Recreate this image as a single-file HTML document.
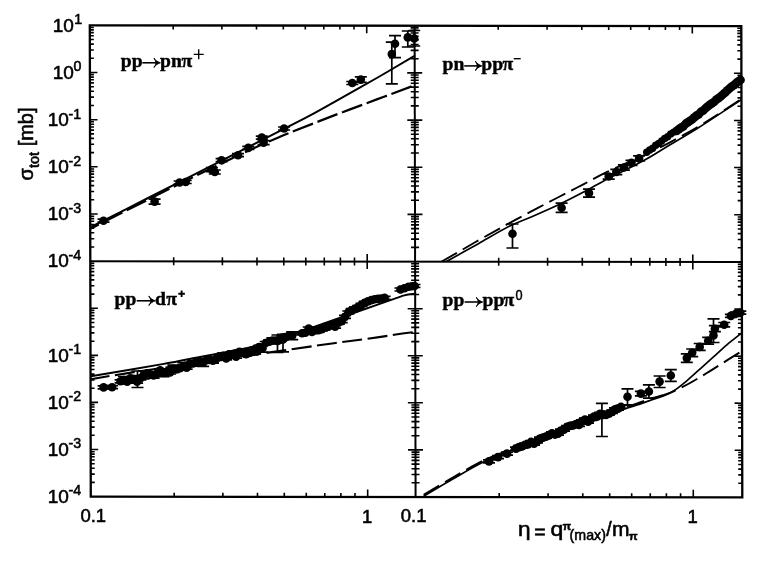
<!DOCTYPE html>
<html><head><meta charset="utf-8"><title>Total cross sections</title>
<style>
html,body{margin:0;padding:0;background:#fff;}
body{width:767px;height:562px;overflow:hidden;font-family:"Liberation Sans",sans-serif;}
svg{display:block;filter:grayscale(1);}
</style></head>
<body>
<svg width="767" height="562" viewBox="0 0 767 562" shape-rendering="geometricPrecision">
<rect width="767" height="562" fill="#fff"/>
<g transform="matrix(1 0.0012 0.0021 1 -0.053 -0.108)">
<g stroke="#000" stroke-width="2.3" fill="none" stroke-linecap="butt">
<rect x="89.8" y="25.3" width="651.5" height="471.3"/>
<line x1="414.6" y1="25.3" x2="414.6" y2="496.6" stroke-width="2"/>
<line x1="89.8" y1="261.2" x2="741.3" y2="261.2" stroke-width="2"/>
</g>
<path d="M173.2 25.3v4.0M173.2 496.6v-4.0M173.2 257.2v8.0M221.9 25.3v4.0M221.9 496.6v-4.0M221.9 257.2v8.0M256.5 25.3v4.0M256.5 496.6v-4.0M256.5 257.2v8.0M283.3 25.3v4.0M283.3 496.6v-4.0M283.3 257.2v8.0M305.3 25.3v4.0M305.3 496.6v-4.0M305.3 257.2v8.0M323.8 25.3v4.0M323.8 496.6v-4.0M323.8 257.2v8.0M339.9 25.3v4.0M339.9 496.6v-4.0M339.9 257.2v8.0M354.0 25.3v4.0M354.0 496.6v-4.0M354.0 257.2v8.0M366.7 25.3v7.5M366.7 496.6v-7.5M366.7 253.7v15.0M498.2 25.3v4.0M498.2 496.6v-4.0M498.2 257.2v8.0M547.1 25.3v4.0M547.1 496.6v-4.0M547.1 257.2v8.0M581.8 25.3v4.0M581.8 496.6v-4.0M581.8 257.2v8.0M608.7 25.3v4.0M608.7 496.6v-4.0M608.7 257.2v8.0M630.7 25.3v4.0M630.7 496.6v-4.0M630.7 257.2v8.0M649.3 25.3v4.0M649.3 496.6v-4.0M649.3 257.2v8.0M665.4 25.3v4.0M665.4 496.6v-4.0M665.4 257.2v8.0M679.6 25.3v4.0M679.6 496.6v-4.0M679.6 257.2v8.0M692.3 25.3v7.5M692.3 496.6v-7.5M692.3 253.7v15.0M89.8 72.5h7.5M741.3 72.5h-7.5M407.1 72.5h15.0M89.8 58.3h4.0M741.3 58.3h-4.0M410.6 58.3h8.0M89.8 50.0h4.0M741.3 50.0h-4.0M410.6 50.0h8.0M89.8 44.1h4.0M741.3 44.1h-4.0M410.6 44.1h8.0M89.8 39.5h4.0M741.3 39.5h-4.0M410.6 39.5h8.0M89.8 35.8h4.0M741.3 35.8h-4.0M410.6 35.8h8.0M89.8 32.6h4.0M741.3 32.6h-4.0M410.6 32.6h8.0M89.8 29.9h4.0M741.3 29.9h-4.0M410.6 29.9h8.0M89.8 27.5h4.0M741.3 27.5h-4.0M410.6 27.5h8.0M89.8 119.7h7.5M741.3 119.7h-7.5M407.1 119.7h15.0M89.8 105.5h4.0M741.3 105.5h-4.0M410.6 105.5h8.0M89.8 97.1h4.0M741.3 97.1h-4.0M410.6 97.1h8.0M89.8 91.3h4.0M741.3 91.3h-4.0M410.6 91.3h8.0M89.8 86.7h4.0M741.3 86.7h-4.0M410.6 86.7h8.0M89.8 82.9h4.0M741.3 82.9h-4.0M410.6 82.9h8.0M89.8 79.8h4.0M741.3 79.8h-4.0M410.6 79.8h8.0M89.8 77.1h4.0M741.3 77.1h-4.0M410.6 77.1h8.0M89.8 74.6h4.0M741.3 74.6h-4.0M410.6 74.6h8.0M89.8 166.8h7.5M741.3 166.8h-7.5M407.1 166.8h15.0M89.8 152.6h4.0M741.3 152.6h-4.0M410.6 152.6h8.0M89.8 144.3h4.0M741.3 144.3h-4.0M410.6 144.3h8.0M89.8 138.4h4.0M741.3 138.4h-4.0M410.6 138.4h8.0M89.8 133.9h4.0M741.3 133.9h-4.0M410.6 133.9h8.0M89.8 130.1h4.0M741.3 130.1h-4.0M410.6 130.1h8.0M89.8 127.0h4.0M741.3 127.0h-4.0M410.6 127.0h8.0M89.8 124.2h4.0M741.3 124.2h-4.0M410.6 124.2h8.0M89.8 121.8h4.0M741.3 121.8h-4.0M410.6 121.8h8.0M89.8 214.0h7.5M741.3 214.0h-7.5M407.1 214.0h15.0M89.8 199.8h4.0M741.3 199.8h-4.0M410.6 199.8h8.0M89.8 191.5h4.0M741.3 191.5h-4.0M410.6 191.5h8.0M89.8 185.6h4.0M741.3 185.6h-4.0M410.6 185.6h8.0M89.8 181.0h4.0M741.3 181.0h-4.0M410.6 181.0h8.0M89.8 177.3h4.0M741.3 177.3h-4.0M410.6 177.3h8.0M89.8 174.1h4.0M741.3 174.1h-4.0M410.6 174.1h8.0M89.8 171.4h4.0M741.3 171.4h-4.0M410.6 171.4h8.0M89.8 169.0h4.0M741.3 169.0h-4.0M410.6 169.0h8.0M89.8 247.0h4.0M741.3 247.0h-4.0M410.6 247.0h8.0M89.8 238.7h4.0M741.3 238.7h-4.0M410.6 238.7h8.0M89.8 232.8h4.0M741.3 232.8h-4.0M410.6 232.8h8.0M89.8 228.2h4.0M741.3 228.2h-4.0M410.6 228.2h8.0M89.8 224.5h4.0M741.3 224.5h-4.0M410.6 224.5h8.0M89.8 221.3h4.0M741.3 221.3h-4.0M410.6 221.3h8.0M89.8 218.6h4.0M741.3 218.6h-4.0M410.6 218.6h8.0M89.8 216.2h4.0M741.3 216.2h-4.0M410.6 216.2h8.0M89.8 308.3h7.5M741.3 308.3h-7.5M407.1 308.3h15.0M89.8 294.1h4.0M741.3 294.1h-4.0M410.6 294.1h8.0M89.8 285.8h4.0M741.3 285.8h-4.0M410.6 285.8h8.0M89.8 279.9h4.0M741.3 279.9h-4.0M410.6 279.9h8.0M89.8 275.4h4.0M741.3 275.4h-4.0M410.6 275.4h8.0M89.8 271.6h4.0M741.3 271.6h-4.0M410.6 271.6h8.0M89.8 268.5h4.0M741.3 268.5h-4.0M410.6 268.5h8.0M89.8 265.8h4.0M741.3 265.8h-4.0M410.6 265.8h8.0M89.8 263.4h4.0M741.3 263.4h-4.0M410.6 263.4h8.0M89.8 355.4h7.5M741.3 355.4h-7.5M407.1 355.4h15.0M89.8 341.2h4.0M741.3 341.2h-4.0M410.6 341.2h8.0M89.8 332.9h4.0M741.3 332.9h-4.0M410.6 332.9h8.0M89.8 327.0h4.0M741.3 327.0h-4.0M410.6 327.0h8.0M89.8 322.5h4.0M741.3 322.5h-4.0M410.6 322.5h8.0M89.8 318.7h4.0M741.3 318.7h-4.0M410.6 318.7h8.0M89.8 315.6h4.0M741.3 315.6h-4.0M410.6 315.6h8.0M89.8 312.8h4.0M741.3 312.8h-4.0M410.6 312.8h8.0M89.8 310.4h4.0M741.3 310.4h-4.0M410.6 310.4h8.0M89.8 402.4h7.5M741.3 402.4h-7.5M407.1 402.4h15.0M89.8 388.3h4.0M741.3 388.3h-4.0M410.6 388.3h8.0M89.8 380.0h4.0M741.3 380.0h-4.0M410.6 380.0h8.0M89.8 374.1h4.0M741.3 374.1h-4.0M410.6 374.1h8.0M89.8 369.5h4.0M741.3 369.5h-4.0M410.6 369.5h8.0M89.8 365.8h4.0M741.3 365.8h-4.0M410.6 365.8h8.0M89.8 362.7h4.0M741.3 362.7h-4.0M410.6 362.7h8.0M89.8 359.9h4.0M741.3 359.9h-4.0M410.6 359.9h8.0M89.8 357.5h4.0M741.3 357.5h-4.0M410.6 357.5h8.0M89.8 449.5h7.5M741.3 449.5h-7.5M407.1 449.5h15.0M89.8 435.3h4.0M741.3 435.3h-4.0M410.6 435.3h8.0M89.8 427.1h4.0M741.3 427.1h-4.0M410.6 427.1h8.0M89.8 421.2h4.0M741.3 421.2h-4.0M410.6 421.2h8.0M89.8 416.6h4.0M741.3 416.6h-4.0M410.6 416.6h8.0M89.8 412.9h4.0M741.3 412.9h-4.0M410.6 412.9h8.0M89.8 409.7h4.0M741.3 409.7h-4.0M410.6 409.7h8.0M89.8 407.0h4.0M741.3 407.0h-4.0M410.6 407.0h8.0M89.8 404.6h4.0M741.3 404.6h-4.0M410.6 404.6h8.0M89.8 482.4h4.0M741.3 482.4h-4.0M410.6 482.4h8.0M89.8 474.1h4.0M741.3 474.1h-4.0M410.6 474.1h8.0M89.8 468.3h4.0M741.3 468.3h-4.0M410.6 468.3h8.0M89.8 463.7h4.0M741.3 463.7h-4.0M410.6 463.7h8.0M89.8 460.0h4.0M741.3 460.0h-4.0M410.6 460.0h8.0M89.8 456.8h4.0M741.3 456.8h-4.0M410.6 456.8h8.0M89.8 454.1h4.0M741.3 454.1h-4.0M410.6 454.1h8.0M89.8 451.7h4.0M741.3 451.7h-4.0M410.6 451.7h8.0" stroke="#000" stroke-width="1.6" fill="none"/>
</g>
<defs>
<clipPath id="c1"><rect x="90.3" y="25.5" width="324.9" height="236.3"/></clipPath>
<clipPath id="c2"><rect x="415.2" y="25.5" width="326.59999999999997" height="236.3"/></clipPath>
<clipPath id="c3"><rect x="90.3" y="261.8" width="324.9" height="235.2"/></clipPath>
<clipPath id="c4"><rect x="415.2" y="261.8" width="326.59999999999997" height="235.2"/></clipPath>
</defs>
<path d="M91.0 227.0C100.8 222.0 131.8 206.2 150.0 197.0C168.2 187.8 183.3 180.1 200.0 171.6C216.7 163.1 232.5 155.1 250.0 146.2C267.5 137.3 291.0 125.5 305.0 118.2C319.0 110.9 322.1 108.9 334.1 102.2C346.1 95.5 363.6 85.6 376.8 78.0C390.0 70.4 406.7 60.5 413.2 56.7C419.7 52.9 415.5 55.3 416.0 55.0" stroke="#000" stroke-width="2.0" fill="none" clip-path="url(#c1)"/>
<path d="M91.0 228.4C100.8 223.4 131.8 207.8 150.0 198.7C168.2 189.6 183.3 181.8 200.0 173.7C216.7 165.6 237.3 155.8 250.0 149.9C262.7 144.1 269.1 141.6 276.0 138.6C282.9 135.6 281.7 136.0 291.4 132.1C301.1 128.2 319.9 120.9 334.1 115.4C348.3 110.0 364.0 104.2 376.8 99.4C389.6 94.6 404.5 89.0 411.0 86.6C417.5 84.2 415.2 85.1 416.0 84.8" stroke="#000" stroke-width="2.2" fill="none" stroke-dasharray="21.5 4.8" stroke-dashoffset="12.6" clip-path="url(#c1)"/>
<g fill="#000">
<circle cx="103.5" cy="220.7" r="4.3"/><path d="M103.5 219.2V222.2M97.5 219.2h12.0M97.5 222.2h12.0" stroke="#000" stroke-width="1.7" fill="none"/>
<circle cx="154.6" cy="201.6" r="4.3"/><path d="M154.6 199.1V204.1M148.6 199.1h12.0M148.6 204.1h12.0" stroke="#000" stroke-width="1.7" fill="none"/>
<circle cx="179.6" cy="182.5" r="4.3"/><path d="M179.6 181.0V184.0M173.6 181.0h12.0M173.6 184.0h12.0" stroke="#000" stroke-width="1.7" fill="none"/>
<circle cx="185.7" cy="182.0" r="4.3"/><path d="M185.7 180.5V183.5M179.7 180.5h12.0M179.7 183.5h12.0" stroke="#000" stroke-width="1.7" fill="none"/>
<circle cx="211.9" cy="169.6" r="4.3"/><path d="M211.9 167.6V171.6M205.9 167.6h12.0M205.9 171.6h12.0" stroke="#000" stroke-width="1.7" fill="none"/>
<circle cx="214.8" cy="172.0" r="4.3"/><path d="M214.8 170.0V174.0M208.8 170.0h12.0M208.8 174.0h12.0" stroke="#000" stroke-width="1.7" fill="none"/>
<circle cx="221.6" cy="160.2" r="4.3"/><path d="M221.6 158.7V161.7M215.6 158.7h12.0M215.6 161.7h12.0" stroke="#000" stroke-width="1.7" fill="none"/>
<circle cx="238.0" cy="155.2" r="4.3"/><path d="M238.0 153.7V156.7M232.0 153.7h12.0M232.0 156.7h12.0" stroke="#000" stroke-width="1.7" fill="none"/>
<circle cx="248.3" cy="147.9" r="4.3"/><path d="M248.3 146.4V149.4M242.3 146.4h12.0M242.3 149.4h12.0" stroke="#000" stroke-width="1.7" fill="none"/>
<circle cx="261.8" cy="137.6" r="4.3"/><path d="M261.8 136.1V139.1M255.8 136.1h12.0M255.8 139.1h12.0" stroke="#000" stroke-width="1.7" fill="none"/>
<circle cx="263.6" cy="142.6" r="4.3"/><path d="M263.6 140.6V144.6M257.6 140.6h12.0M257.6 144.6h12.0" stroke="#000" stroke-width="1.7" fill="none"/>
<circle cx="284.1" cy="128.5" r="4.3"/><path d="M284.1 127.0V130.0M278.1 127.0h12.0M278.1 130.0h12.0" stroke="#000" stroke-width="1.7" fill="none"/>
<circle cx="352.3" cy="83.0" r="4.3"/><path d="M352.3 81.5V84.5M346.3 81.5h12.0M346.3 84.5h12.0" stroke="#000" stroke-width="1.7" fill="none"/>
<circle cx="360.8" cy="79.6" r="4.3"/><path d="M360.8 76.8V82.4M354.8 76.8h12.0M354.8 82.4h12.0" stroke="#000" stroke-width="1.7" fill="none"/>
<circle cx="391.8" cy="54.1" r="4.3"/><path d="M391.8 42.1V83.8M385.8 42.1h12.0M385.8 83.8h12.0" stroke="#000" stroke-width="1.7" fill="none"/>
<circle cx="395.0" cy="43.8" r="4.3"/><path d="M395.0 35.7V57.7M389.0 35.7h12.0M389.0 57.7h12.0" stroke="#000" stroke-width="1.7" fill="none"/>
<circle cx="407.8" cy="37.4" r="4.3"/><path d="M407.8 31.0V47.0M401.8 31.0h12.0M401.8 47.0h12.0" stroke="#000" stroke-width="1.7" fill="none"/>
<circle cx="414.2" cy="38.5" r="4.3"/><path d="M414.2 30.5V46.0M408.2 30.5h12.0M408.2 46.0h12.0" stroke="#000" stroke-width="1.7" fill="none"/>
</g>
<path d="M446.0 261.8C451.3 258.8 467.4 249.9 478.0 243.9C488.6 237.9 500.6 230.6 509.8 226.0C519.0 221.4 525.0 219.7 533.0 216.2C541.0 212.7 549.7 208.9 558.0 205.0C566.3 201.1 574.3 197.0 582.6 192.6C590.9 188.2 597.8 184.0 607.9 178.7C618.0 173.4 633.0 166.5 643.4 160.8C653.8 155.2 661.2 150.1 670.1 144.8C679.0 139.5 687.9 134.4 696.8 128.8C705.7 123.2 716.4 116.1 723.5 111.4C730.6 106.7 736.5 102.8 739.6 100.7C742.7 98.6 741.6 99.3 742.0 99.0" stroke="#000" stroke-width="1.7" fill="none" clip-path="url(#c2)"/>
<path d="M441.3 261.8C447.1 258.5 465.0 248.1 476.0 241.8C487.0 235.5 497.1 229.9 507.5 224.2C517.9 218.5 529.5 212.4 538.4 207.7C547.3 203.0 553.1 199.9 560.7 196.0C568.3 192.1 576.1 188.1 583.8 184.1C591.4 180.1 596.7 176.9 606.6 172.1C616.5 167.3 632.8 160.5 643.4 155.5C654.0 150.5 660.9 147.1 670.0 142.3C679.1 137.5 689.7 131.7 698.0 126.8C706.3 121.9 713.0 117.5 720.0 113.0C727.0 108.5 736.7 102.1 740.0 99.9" stroke="#000" stroke-width="1.9" fill="none" stroke-dasharray="18 6.7" stroke-dashoffset="0" clip-path="url(#c2)"/>
<g fill="#000">
<circle cx="512.5" cy="233.7" r="4.3"/><path d="M512.5 224.0V248.0M506.5 224.0h12.0M506.5 248.0h12.0" stroke="#000" stroke-width="1.7" fill="none"/>
<circle cx="561.6" cy="207.8" r="4.3"/><path d="M561.6 203.2V212.4M555.6 203.2h12.0M555.6 212.4h12.0" stroke="#000" stroke-width="1.7" fill="none"/>
<circle cx="589.0" cy="193.1" r="4.3"/><path d="M589.0 189.1V197.1M583.0 189.1h12.0M583.0 197.1h12.0" stroke="#000" stroke-width="1.7" fill="none"/>
<circle cx="608.7" cy="176.5" r="4.3"/><path d="M608.7 173.9V179.1M602.7 173.9h12.0M602.7 179.1h12.0" stroke="#000" stroke-width="1.7" fill="none"/>
<circle cx="616.3" cy="172.0" r="4.3"/><path d="M616.3 169.4V174.6M610.3 169.4h12.0M610.3 174.6h12.0" stroke="#000" stroke-width="1.7" fill="none"/>
<circle cx="623.9" cy="167.5" r="4.3"/><path d="M623.9 164.9V170.1M617.9 164.9h12.0M617.9 170.1h12.0" stroke="#000" stroke-width="1.7" fill="none"/>
<circle cx="631.5" cy="162.9" r="4.3"/><path d="M631.5 160.3V165.5M625.5 160.3h12.0M625.5 165.5h12.0" stroke="#000" stroke-width="1.7" fill="none"/>
<circle cx="639.1" cy="158.4" r="4.3"/><path d="M639.1 155.8V161.0M633.1 155.8h12.0M633.1 161.0h12.0" stroke="#000" stroke-width="1.7" fill="none"/>
<circle cx="646.7" cy="152.3" r="3.7"/>
<circle cx="649.7" cy="149.9" r="3.7"/>
<circle cx="652.7" cy="148.2" r="3.7"/>
<circle cx="655.7" cy="145.2" r="3.7"/>
<circle cx="658.7" cy="143.5" r="3.7"/>
<circle cx="661.7" cy="141.0" r="3.7"/>
<circle cx="664.7" cy="138.4" r="3.7"/>
<circle cx="667.7" cy="136.7" r="3.7"/>
<circle cx="670.7" cy="133.9" r="3.7"/>
<circle cx="673.7" cy="132.1" r="3.7"/>
<circle cx="676.7" cy="130.8" r="4.4"/>
<circle cx="678.9" cy="129.1" r="4.4"/>
<circle cx="681.1" cy="127.7" r="4.4"/>
<circle cx="683.3" cy="126.3" r="4.4"/>
<circle cx="685.5" cy="124.0" r="4.4"/>
<circle cx="687.7" cy="122.3" r="4.4"/>
<circle cx="689.9" cy="120.9" r="4.4"/>
<circle cx="692.1" cy="119.5" r="4.4"/>
<circle cx="694.3" cy="117.4" r="4.4"/>
<circle cx="696.5" cy="115.6" r="4.4"/>
<circle cx="698.7" cy="114.3" r="4.4"/>
<circle cx="700.9" cy="111.8" r="4.4"/>
<circle cx="703.1" cy="110.7" r="4.4"/>
<circle cx="705.3" cy="108.5" r="4.4"/>
<circle cx="707.5" cy="106.7" r="4.4"/>
<circle cx="709.7" cy="104.9" r="4.4"/>
<circle cx="711.9" cy="103.3" r="4.4"/>
<circle cx="714.1" cy="101.9" r="4.4"/>
<circle cx="716.3" cy="99.6" r="4.4"/>
<circle cx="718.5" cy="98.2" r="4.4"/>
<circle cx="720.7" cy="96.5" r="4.4"/>
<circle cx="722.9" cy="94.5" r="4.4"/>
<circle cx="725.1" cy="92.7" r="4.4"/>
<circle cx="727.3" cy="90.4" r="4.4"/>
<circle cx="729.5" cy="88.5" r="4.4"/>
<circle cx="731.7" cy="86.7" r="4.4"/>
<circle cx="733.9" cy="85.1" r="4.4"/>
<circle cx="736.1" cy="83.2" r="4.4"/>
<circle cx="738.3" cy="81.4" r="4.4"/>
<circle cx="740.5" cy="80.0" r="4.4"/>
</g>
<path d="M90.9 376.3C102.8 374.3 146.3 366.9 162.5 364.1C178.7 361.3 175.1 361.7 188.0 359.3C200.9 356.9 227.2 352.1 240.0 349.5C252.8 346.9 256.0 346.1 265.0 343.5C274.0 340.9 280.2 338.8 294.0 334.0C307.8 329.2 332.8 320.4 348.0 315.0C363.2 309.6 376.1 305.2 385.5 301.9C394.9 298.6 399.4 296.8 404.3 295.4C409.2 294.0 413.1 294.1 414.9 293.8" stroke="#000" stroke-width="1.9" fill="none" clip-path="url(#c3)"/>
<path d="M90.9 379.2C97.6 378.1 112.8 375.4 131.0 372.6C149.2 369.8 177.1 365.7 200.0 362.4C222.9 359.1 245.9 355.8 268.2 352.6C290.5 349.4 315.1 345.8 333.9 343.2C352.7 340.6 369.1 338.6 380.8 336.9C392.5 335.2 398.5 334.0 404.3 333.2C410.1 332.4 413.6 332.3 415.5 332.1" stroke="#000" stroke-width="2.1" fill="none" stroke-dasharray="20 5.5" stroke-dashoffset="1.0" clip-path="url(#c3)"/>
<g fill="#000">
<circle cx="103.6" cy="387.4" r="4.3"/><path d="M103.6 385.9V388.9M97.6 385.9h12.0M97.6 388.9h12.0" stroke="#000" stroke-width="1.7" fill="none"/>
<circle cx="112.1" cy="387.2" r="4.3"/><path d="M112.1 385.7V388.7M106.1 385.7h12.0M106.1 388.7h12.0" stroke="#000" stroke-width="1.7" fill="none"/>
<circle cx="120.6" cy="381.3" r="4.3"/><path d="M120.6 379.8V382.8M114.6 379.8h12.0M114.6 382.8h12.0" stroke="#000" stroke-width="1.7" fill="none"/>
<circle cx="123.9" cy="380.1" r="4.3"/><path d="M123.9 376.5V383.8M117.9 376.5h12.0M117.9 383.8h12.0" stroke="#000" stroke-width="1.7" fill="none"/>
<circle cx="127.2" cy="381.7" r="4.3"/><path d="M127.2 380.2V383.2M121.2 380.2h12.0M121.2 383.2h12.0" stroke="#000" stroke-width="1.7" fill="none"/>
<circle cx="130.5" cy="378.3" r="4.3"/><path d="M130.5 376.8V379.8M124.5 376.8h12.0M124.5 379.8h12.0" stroke="#000" stroke-width="1.7" fill="none"/>
<circle cx="133.8" cy="379.0" r="4.3"/><path d="M133.8 375.7V382.2M127.8 375.7h12.0M127.8 382.2h12.0" stroke="#000" stroke-width="1.7" fill="none"/>
<circle cx="137.1" cy="381.6" r="4.3"/><path d="M137.1 380.1V383.1M131.1 380.1h12.0M131.1 383.1h12.0" stroke="#000" stroke-width="1.7" fill="none"/>
<circle cx="140.4" cy="378.3" r="4.3"/><path d="M140.4 376.8V379.8M134.4 376.8h12.0M134.4 379.8h12.0" stroke="#000" stroke-width="1.7" fill="none"/>
<circle cx="143.7" cy="374.9" r="4.3"/><path d="M143.7 370.9V378.8M137.7 370.9h12.0M137.7 378.8h12.0" stroke="#000" stroke-width="1.7" fill="none"/>
<circle cx="147.0" cy="373.2" r="4.3"/><path d="M147.0 371.7V374.7M141.0 371.7h12.0M141.0 374.7h12.0" stroke="#000" stroke-width="1.7" fill="none"/>
<circle cx="150.3" cy="374.3" r="4.3"/><path d="M150.3 372.8V375.8M144.3 372.8h12.0M144.3 375.8h12.0" stroke="#000" stroke-width="1.7" fill="none"/>
<circle cx="153.6" cy="375.5" r="4.3"/><path d="M153.6 372.8V378.2M147.6 372.8h12.0M147.6 378.2h12.0" stroke="#000" stroke-width="1.7" fill="none"/>
<circle cx="156.9" cy="373.5" r="4.3"/><path d="M156.9 372.0V375.0M150.9 372.0h12.0M150.9 375.0h12.0" stroke="#000" stroke-width="1.7" fill="none"/>
<circle cx="160.2" cy="370.4" r="4.3"/><path d="M160.2 368.9V371.9M154.2 368.9h12.0M154.2 371.9h12.0" stroke="#000" stroke-width="1.7" fill="none"/>
<circle cx="163.5" cy="373.0" r="4.3"/><path d="M163.5 369.3V376.6M157.5 369.3h12.0M157.5 376.6h12.0" stroke="#000" stroke-width="1.7" fill="none"/>
<circle cx="166.8" cy="371.7" r="4.3"/><path d="M166.8 370.2V373.2M160.8 370.2h12.0M160.8 373.2h12.0" stroke="#000" stroke-width="1.7" fill="none"/>
<circle cx="170.1" cy="372.5" r="4.3"/><path d="M170.1 371.0V374.0M164.1 371.0h12.0M164.1 374.0h12.0" stroke="#000" stroke-width="1.7" fill="none"/>
<circle cx="173.4" cy="368.7" r="4.3"/><path d="M173.4 365.2V372.3M167.4 365.2h12.0M167.4 372.3h12.0" stroke="#000" stroke-width="1.7" fill="none"/>
<circle cx="176.7" cy="369.3" r="4.3"/><path d="M176.7 367.8V370.8M170.7 367.8h12.0M170.7 370.8h12.0" stroke="#000" stroke-width="1.7" fill="none"/>
<circle cx="180.0" cy="368.1" r="4.3"/><path d="M180.0 366.6V369.6M174.0 366.6h12.0M174.0 369.6h12.0" stroke="#000" stroke-width="1.7" fill="none"/>
<circle cx="183.3" cy="366.4" r="4.3"/><path d="M183.3 362.6V370.1M177.3 362.6h12.0M177.3 370.1h12.0" stroke="#000" stroke-width="1.7" fill="none"/>
<circle cx="186.6" cy="367.6" r="4.3"/><path d="M186.6 366.1V369.1M180.6 366.1h12.0M180.6 369.1h12.0" stroke="#000" stroke-width="1.7" fill="none"/>
<circle cx="189.9" cy="363.9" r="4.3"/><path d="M189.9 362.4V365.4M183.9 362.4h12.0M183.9 365.4h12.0" stroke="#000" stroke-width="1.7" fill="none"/>
<circle cx="193.2" cy="363.5" r="4.3"/><path d="M193.2 360.9V366.1M187.2 360.9h12.0M187.2 366.1h12.0" stroke="#000" stroke-width="1.7" fill="none"/>
<circle cx="196.5" cy="362.4" r="4.3"/><path d="M196.5 360.9V363.9M190.5 360.9h12.0M190.5 363.9h12.0" stroke="#000" stroke-width="1.7" fill="none"/>
<circle cx="199.8" cy="361.5" r="4.3"/><path d="M199.8 360.0V363.0M193.8 360.0h12.0M193.8 363.0h12.0" stroke="#000" stroke-width="1.7" fill="none"/>
<circle cx="203.1" cy="362.6" r="4.3"/><path d="M203.1 358.9V366.3M197.1 358.9h12.0M197.1 366.3h12.0" stroke="#000" stroke-width="1.7" fill="none"/>
<circle cx="206.4" cy="360.2" r="4.3"/><path d="M206.4 358.7V361.7M200.4 358.7h12.0M200.4 361.7h12.0" stroke="#000" stroke-width="1.7" fill="none"/>
<circle cx="209.7" cy="359.9" r="4.3"/><path d="M209.7 358.4V361.4M203.7 358.4h12.0M203.7 361.4h12.0" stroke="#000" stroke-width="1.7" fill="none"/>
<circle cx="213.0" cy="360.7" r="4.3"/><path d="M213.0 358.1V363.2M207.0 358.1h12.0M207.0 363.2h12.0" stroke="#000" stroke-width="1.7" fill="none"/>
<circle cx="216.3" cy="358.9" r="4.3"/><path d="M216.3 357.4V360.4M210.3 357.4h12.0M210.3 360.4h12.0" stroke="#000" stroke-width="1.7" fill="none"/>
<circle cx="219.6" cy="356.8" r="4.3"/><path d="M219.6 355.3V358.3M213.6 355.3h12.0M213.6 358.3h12.0" stroke="#000" stroke-width="1.7" fill="none"/>
<circle cx="222.9" cy="355.8" r="4.3"/><path d="M222.9 353.2V358.4M216.9 353.2h12.0M216.9 358.4h12.0" stroke="#000" stroke-width="1.7" fill="none"/>
<circle cx="226.2" cy="358.4" r="4.3"/><path d="M226.2 356.9V359.9M220.2 356.9h12.0M220.2 359.9h12.0" stroke="#000" stroke-width="1.7" fill="none"/>
<circle cx="229.5" cy="354.3" r="4.3"/><path d="M229.5 352.8V355.8M223.5 352.8h12.0M223.5 355.8h12.0" stroke="#000" stroke-width="1.7" fill="none"/>
<circle cx="232.8" cy="354.1" r="4.3"/><path d="M232.8 351.1V357.2M226.8 351.1h12.0M226.8 357.2h12.0" stroke="#000" stroke-width="1.7" fill="none"/>
<circle cx="236.1" cy="356.6" r="4.3"/><path d="M236.1 355.1V358.1M230.1 355.1h12.0M230.1 358.1h12.0" stroke="#000" stroke-width="1.7" fill="none"/>
<circle cx="239.4" cy="351.7" r="4.3"/><path d="M239.4 350.2V353.2M233.4 350.2h12.0M233.4 353.2h12.0" stroke="#000" stroke-width="1.7" fill="none"/>
<circle cx="242.7" cy="352.7" r="4.3"/><path d="M242.7 349.4V356.1M236.7 349.4h12.0M236.7 356.1h12.0" stroke="#000" stroke-width="1.7" fill="none"/>
<circle cx="246.0" cy="354.1" r="4.3"/><path d="M246.0 352.6V355.6M240.0 352.6h12.0M240.0 355.6h12.0" stroke="#000" stroke-width="1.7" fill="none"/>
<circle cx="249.3" cy="352.9" r="4.3"/><path d="M249.3 351.4V354.4M243.3 351.4h12.0M243.3 354.4h12.0" stroke="#000" stroke-width="1.7" fill="none"/>
<circle cx="252.6" cy="352.0" r="4.3"/><path d="M252.6 349.1V354.9M246.6 349.1h12.0M246.6 354.9h12.0" stroke="#000" stroke-width="1.7" fill="none"/>
<circle cx="255.9" cy="348.6" r="4.3"/><path d="M255.9 347.1V350.1M249.9 347.1h12.0M249.9 350.1h12.0" stroke="#000" stroke-width="1.7" fill="none"/>
<circle cx="259.2" cy="347.0" r="4.3"/><path d="M259.2 345.5V348.5M253.2 345.5h12.0M253.2 348.5h12.0" stroke="#000" stroke-width="1.7" fill="none"/>
<circle cx="262.5" cy="348.2" r="4.3"/><path d="M262.5 344.3V352.2M256.5 344.3h12.0M256.5 352.2h12.0" stroke="#000" stroke-width="1.7" fill="none"/>
<circle cx="265.8" cy="343.0" r="4.3"/><path d="M265.8 341.5V344.5M259.8 341.5h12.0M259.8 344.5h12.0" stroke="#000" stroke-width="1.7" fill="none"/>
<circle cx="269.1" cy="341.7" r="4.3"/><path d="M269.1 340.2V343.2M263.1 340.2h12.0M263.1 343.2h12.0" stroke="#000" stroke-width="1.7" fill="none"/>
<circle cx="272.4" cy="340.6" r="4.3"/><path d="M272.4 337.8V343.5M266.4 337.8h12.0M266.4 343.5h12.0" stroke="#000" stroke-width="1.7" fill="none"/>
<circle cx="275.7" cy="340.5" r="4.3"/><path d="M275.7 339.0V342.0M269.7 339.0h12.0M269.7 342.0h12.0" stroke="#000" stroke-width="1.7" fill="none"/>
<circle cx="279.0" cy="340.1" r="4.3"/><path d="M279.0 338.6V341.6M273.0 338.6h12.0M273.0 341.6h12.0" stroke="#000" stroke-width="1.7" fill="none"/>
<circle cx="282.3" cy="337.5" r="4.3"/><path d="M282.3 335.0V340.0M276.3 335.0h12.0M276.3 340.0h12.0" stroke="#000" stroke-width="1.7" fill="none"/>
<circle cx="285.6" cy="337.1" r="4.3"/><path d="M285.6 335.6V338.6M279.6 335.6h12.0M279.6 338.6h12.0" stroke="#000" stroke-width="1.7" fill="none"/>
<circle cx="288.9" cy="335.7" r="4.3"/><path d="M288.9 334.2V337.2M282.9 334.2h12.0M282.9 337.2h12.0" stroke="#000" stroke-width="1.7" fill="none"/>
<circle cx="292.2" cy="335.8" r="4.3"/><path d="M292.2 331.9V339.7M286.2 331.9h12.0M286.2 339.7h12.0" stroke="#000" stroke-width="1.7" fill="none"/>
<circle cx="302.1" cy="333.3" r="4.3"/><path d="M302.1 331.8V334.8M296.1 331.8h12.0M296.1 334.8h12.0" stroke="#000" stroke-width="1.7" fill="none"/>
<circle cx="305.4" cy="332.7" r="4.3"/><path d="M305.4 331.2V334.2M299.4 331.2h12.0M299.4 334.2h12.0" stroke="#000" stroke-width="1.7" fill="none"/>
<circle cx="308.7" cy="328.5" r="4.3"/><path d="M308.7 327.0V330.0M302.7 327.0h12.0M302.7 330.0h12.0" stroke="#000" stroke-width="1.7" fill="none"/>
<circle cx="312.0" cy="331.9" r="4.3"/><path d="M312.0 330.4V333.4M306.0 330.4h12.0M306.0 333.4h12.0" stroke="#000" stroke-width="1.7" fill="none"/>
<circle cx="315.3" cy="330.2" r="4.3"/><path d="M315.3 328.7V331.7M309.3 328.7h12.0M309.3 331.7h12.0" stroke="#000" stroke-width="1.7" fill="none"/>
<circle cx="318.6" cy="330.2" r="4.3"/><path d="M318.6 328.7V331.7M312.6 328.7h12.0M312.6 331.7h12.0" stroke="#000" stroke-width="1.7" fill="none"/>
<circle cx="321.9" cy="329.3" r="4.3"/><path d="M321.9 327.8V330.8M315.9 327.8h12.0M315.9 330.8h12.0" stroke="#000" stroke-width="1.7" fill="none"/>
<circle cx="325.2" cy="326.9" r="4.3"/><path d="M325.2 325.4V328.4M319.2 325.4h12.0M319.2 328.4h12.0" stroke="#000" stroke-width="1.7" fill="none"/>
<circle cx="328.5" cy="326.6" r="4.3"/><path d="M328.5 325.1V328.1M322.5 325.1h12.0M322.5 328.1h12.0" stroke="#000" stroke-width="1.7" fill="none"/>
<circle cx="331.8" cy="324.7" r="4.3"/><path d="M331.8 323.2V326.2M325.8 323.2h12.0M325.8 326.2h12.0" stroke="#000" stroke-width="1.7" fill="none"/>
<circle cx="335.1" cy="326.6" r="4.3"/><path d="M335.1 325.1V328.1M329.1 325.1h12.0M329.1 328.1h12.0" stroke="#000" stroke-width="1.7" fill="none"/>
<circle cx="338.4" cy="322.7" r="4.3"/><path d="M338.4 321.2V324.2M332.4 321.2h12.0M332.4 324.2h12.0" stroke="#000" stroke-width="1.7" fill="none"/>
<circle cx="341.7" cy="321.1" r="4.3"/><path d="M341.7 319.6V322.6M335.7 319.6h12.0M335.7 322.6h12.0" stroke="#000" stroke-width="1.7" fill="none"/>
<circle cx="345.0" cy="316.8" r="4.3"/><path d="M345.0 315.3V318.3M339.0 315.3h12.0M339.0 318.3h12.0" stroke="#000" stroke-width="1.7" fill="none"/>
<circle cx="348.3" cy="312.5" r="4.3"/><path d="M348.3 311.0V314.0M342.3 311.0h12.0M342.3 314.0h12.0" stroke="#000" stroke-width="1.7" fill="none"/>
<circle cx="351.6" cy="310.2" r="4.3"/><path d="M351.6 308.7V311.7M345.6 308.7h12.0M345.6 311.7h12.0" stroke="#000" stroke-width="1.7" fill="none"/>
<circle cx="354.9" cy="308.7" r="4.3"/><path d="M354.9 307.2V310.2M348.9 307.2h12.0M348.9 310.2h12.0" stroke="#000" stroke-width="1.7" fill="none"/>
<circle cx="358.2" cy="307.1" r="4.3"/><path d="M358.2 305.6V308.6M352.2 305.6h12.0M352.2 308.6h12.0" stroke="#000" stroke-width="1.7" fill="none"/>
<circle cx="361.5" cy="304.8" r="4.3"/><path d="M361.5 303.3V306.3M355.5 303.3h12.0M355.5 306.3h12.0" stroke="#000" stroke-width="1.7" fill="none"/>
<circle cx="364.8" cy="302.9" r="4.3"/><path d="M364.8 301.4V304.4M358.8 301.4h12.0M358.8 304.4h12.0" stroke="#000" stroke-width="1.7" fill="none"/>
<circle cx="368.1" cy="301.3" r="4.3"/><path d="M368.1 299.8V302.8M362.1 299.8h12.0M362.1 302.8h12.0" stroke="#000" stroke-width="1.7" fill="none"/>
<circle cx="371.4" cy="300.1" r="4.3"/><path d="M371.4 298.6V301.6M365.4 298.6h12.0M365.4 301.6h12.0" stroke="#000" stroke-width="1.7" fill="none"/>
<circle cx="374.7" cy="299.2" r="4.3"/><path d="M374.7 297.7V300.7M368.7 297.7h12.0M368.7 300.7h12.0" stroke="#000" stroke-width="1.7" fill="none"/>
<circle cx="378.0" cy="298.9" r="4.3"/><path d="M378.0 297.4V300.4M372.0 297.4h12.0M372.0 300.4h12.0" stroke="#000" stroke-width="1.7" fill="none"/>
<circle cx="381.3" cy="298.5" r="4.3"/><path d="M381.3 297.0V300.0M375.3 297.0h12.0M375.3 300.0h12.0" stroke="#000" stroke-width="1.7" fill="none"/>
<circle cx="384.6" cy="297.8" r="4.3"/><path d="M384.6 296.3V299.3M378.6 296.3h12.0M378.6 299.3h12.0" stroke="#000" stroke-width="1.7" fill="none"/>
<circle cx="137.5" cy="379.5" r="4.3"/><path d="M137.5 371.0V387.5M131.5 371.0h12.0M131.5 387.5h12.0" stroke="#000" stroke-width="1.7" fill="none"/>
<circle cx="283.0" cy="339.5" r="4.3"/><path d="M283.0 334.3V351.8M277.0 334.3h12.0M277.0 351.8h12.0" stroke="#000" stroke-width="1.7" fill="none"/>
<circle cx="277.5" cy="341.0" r="4.3"/><path d="M277.5 335.0V352.3M271.5 335.0h12.0M271.5 352.3h12.0" stroke="#000" stroke-width="1.7" fill="none"/>
<circle cx="400.5" cy="289.5" r="4.3"/><path d="M400.5 288.0V291.0M394.5 288.0h12.0M394.5 291.0h12.0" stroke="#000" stroke-width="1.7" fill="none"/>
<circle cx="404.5" cy="288.2" r="4.3"/><path d="M404.5 286.7V289.7M398.5 286.7h12.0M398.5 289.7h12.0" stroke="#000" stroke-width="1.7" fill="none"/>
<circle cx="408.5" cy="286.8" r="4.3"/><path d="M408.5 285.3V288.3M402.5 285.3h12.0M402.5 288.3h12.0" stroke="#000" stroke-width="1.7" fill="none"/>
<circle cx="412.0" cy="286.2" r="4.3"/><path d="M412.0 284.7V287.7M406.0 284.7h12.0M406.0 287.7h12.0" stroke="#000" stroke-width="1.7" fill="none"/>
<circle cx="414.5" cy="286.0" r="4.3"/><path d="M414.5 284.5V287.5M408.5 284.5h12.0M408.5 287.5h12.0" stroke="#000" stroke-width="1.7" fill="none"/>
</g>
<path d="M423.7 496.2C428.4 493.4 442.2 485.1 452.0 479.5C461.8 473.9 472.7 467.2 482.4 462.5C492.1 457.8 500.3 454.9 510.0 451.0C519.7 447.1 531.1 442.9 540.4 439.2C549.7 435.5 557.3 432.1 566.0 428.6C574.7 425.2 584.5 421.3 592.5 418.5C600.5 415.7 607.2 414.1 614.0 412.0C620.8 409.9 627.0 408.2 633.4 406.2C639.8 404.1 647.0 401.5 652.1 399.7C657.2 397.9 660.4 397.1 664.0 395.6C667.6 394.2 669.7 393.5 673.5 391.0C677.3 388.5 682.3 384.5 686.8 380.8C691.2 377.1 695.8 372.8 700.2 368.8C704.7 364.8 709.0 360.8 713.5 356.8C718.0 352.8 722.4 348.6 726.9 344.8C731.4 341.0 737.8 336.1 740.3 334.1C742.8 332.1 741.7 333.0 742.0 332.8" stroke="#000" stroke-width="1.7" fill="none" clip-path="url(#c4)"/>
<path d="M423.7 494.9C428.4 492.1 442.2 483.8 452.0 478.2C461.8 472.6 472.7 465.9 482.4 461.2C492.1 456.4 500.3 453.6 510.0 449.7C519.7 445.8 531.1 441.6 540.4 437.9C549.7 434.2 557.3 430.8 566.0 427.3C574.7 423.9 584.5 420.0 592.5 417.2C600.5 414.4 607.2 412.8 614.0 410.7C620.8 408.6 627.0 406.9 633.4 404.9C639.8 402.8 647.0 400.0 652.1 398.4C657.2 396.8 662.0 395.6 664.0 395.0" stroke="#000" stroke-width="2.2" fill="none" stroke-dasharray="18 6.7" stroke-dashoffset="0" clip-path="url(#c4)"/>
<path d="M664.0 395.0C665.6 394.4 669.2 393.4 673.5 391.4C677.8 389.4 684.6 386.0 690.0 383.0C695.4 380.0 700.7 376.8 706.0 373.5C711.3 370.2 716.4 367.0 722.0 363.5C727.6 360.0 736.6 354.4 739.5 352.6" stroke="#000" stroke-width="2.0" fill="none" stroke-dasharray="18 6.7" stroke-dashoffset="5.5" clip-path="url(#c4)"/>
<g fill="#000">
<circle cx="489.0" cy="461.3" r="4.3999999999999995"/><path d="M489.0 459.8V462.8M483.0 459.8h12.0M483.0 462.8h12.0" stroke="#000" stroke-width="1.7" fill="none"/>
<circle cx="498.0" cy="457.1" r="4.3999999999999995"/><path d="M498.0 455.6V458.6M492.0 455.6h12.0M492.0 458.6h12.0" stroke="#000" stroke-width="1.7" fill="none"/>
<circle cx="507.0" cy="453.6" r="4.3999999999999995"/><path d="M507.0 452.1V455.1M501.0 452.1h12.0M501.0 455.1h12.0" stroke="#000" stroke-width="1.7" fill="none"/>
<circle cx="516.0" cy="448.6" r="4.3999999999999995"/><path d="M516.0 447.1V450.1M510.0 447.1h12.0M510.0 450.1h12.0" stroke="#000" stroke-width="1.7" fill="none"/>
<circle cx="519.0" cy="447.1" r="4.3999999999999995"/><path d="M519.0 445.6V448.6M513.0 445.6h12.0M513.0 448.6h12.0" stroke="#000" stroke-width="1.7" fill="none"/>
<circle cx="522.0" cy="446.3" r="4.3999999999999995"/><path d="M522.0 444.8V447.8M516.0 444.8h12.0M516.0 447.8h12.0" stroke="#000" stroke-width="1.7" fill="none"/>
<circle cx="525.0" cy="444.8" r="4.3999999999999995"/><path d="M525.0 443.3V446.3M519.0 443.3h12.0M519.0 446.3h12.0" stroke="#000" stroke-width="1.7" fill="none"/>
<circle cx="528.0" cy="444.4" r="4.3999999999999995"/><path d="M528.0 442.9V445.9M522.0 442.9h12.0M522.0 445.9h12.0" stroke="#000" stroke-width="1.7" fill="none"/>
<circle cx="531.0" cy="442.0" r="4.3999999999999995"/><path d="M531.0 440.5V443.5M525.0 440.5h12.0M525.0 443.5h12.0" stroke="#000" stroke-width="1.7" fill="none"/>
<circle cx="534.0" cy="443.6" r="4.3999999999999995"/><path d="M534.0 442.1V445.1M528.0 442.1h12.0M528.0 445.1h12.0" stroke="#000" stroke-width="1.7" fill="none"/>
<circle cx="537.0" cy="441.4" r="4.3999999999999995"/><path d="M537.0 439.9V442.9M531.0 439.9h12.0M531.0 442.9h12.0" stroke="#000" stroke-width="1.7" fill="none"/>
<circle cx="540.0" cy="438.6" r="4.3999999999999995"/><path d="M540.0 437.1V440.1M534.0 437.1h12.0M534.0 440.1h12.0" stroke="#000" stroke-width="1.7" fill="none"/>
<circle cx="543.0" cy="437.6" r="4.3999999999999995"/><path d="M543.0 436.1V439.1M537.0 436.1h12.0M537.0 439.1h12.0" stroke="#000" stroke-width="1.7" fill="none"/>
<circle cx="546.0" cy="436.7" r="4.3999999999999995"/><path d="M546.0 435.2V438.2M540.0 435.2h12.0M540.0 438.2h12.0" stroke="#000" stroke-width="1.7" fill="none"/>
<circle cx="549.0" cy="435.4" r="4.3999999999999995"/><path d="M549.0 433.9V436.9M543.0 433.9h12.0M543.0 436.9h12.0" stroke="#000" stroke-width="1.7" fill="none"/>
<circle cx="552.0" cy="433.3" r="4.3999999999999995"/><path d="M552.0 431.8V434.8M546.0 431.8h12.0M546.0 434.8h12.0" stroke="#000" stroke-width="1.7" fill="none"/>
<circle cx="555.0" cy="434.5" r="4.3999999999999995"/><path d="M555.0 433.0V436.0M549.0 433.0h12.0M549.0 436.0h12.0" stroke="#000" stroke-width="1.7" fill="none"/>
<circle cx="558.0" cy="433.7" r="4.3999999999999995"/><path d="M558.0 432.2V435.2M552.0 432.2h12.0M552.0 435.2h12.0" stroke="#000" stroke-width="1.7" fill="none"/>
<circle cx="561.0" cy="430.7" r="4.3999999999999995"/><path d="M561.0 429.2V432.2M555.0 429.2h12.0M555.0 432.2h12.0" stroke="#000" stroke-width="1.7" fill="none"/>
<circle cx="564.0" cy="429.6" r="4.3999999999999995"/><path d="M564.0 428.1V431.1M558.0 428.1h12.0M558.0 431.1h12.0" stroke="#000" stroke-width="1.7" fill="none"/>
<circle cx="567.0" cy="427.0" r="4.3999999999999995"/><path d="M567.0 425.5V428.5M561.0 425.5h12.0M561.0 428.5h12.0" stroke="#000" stroke-width="1.7" fill="none"/>
<circle cx="570.0" cy="425.9" r="4.3999999999999995"/><path d="M570.0 424.4V427.4M564.0 424.4h12.0M564.0 427.4h12.0" stroke="#000" stroke-width="1.7" fill="none"/>
<circle cx="573.0" cy="425.5" r="4.3999999999999995"/><path d="M573.0 424.0V427.0M567.0 424.0h12.0M567.0 427.0h12.0" stroke="#000" stroke-width="1.7" fill="none"/>
<circle cx="576.0" cy="424.1" r="4.3999999999999995"/><path d="M576.0 422.6V425.6M570.0 422.6h12.0M570.0 425.6h12.0" stroke="#000" stroke-width="1.7" fill="none"/>
<circle cx="579.0" cy="424.8" r="4.3999999999999995"/><path d="M579.0 423.3V426.3M573.0 423.3h12.0M573.0 426.3h12.0" stroke="#000" stroke-width="1.7" fill="none"/>
<circle cx="582.0" cy="421.4" r="4.3999999999999995"/><path d="M582.0 419.9V422.9M576.0 419.9h12.0M576.0 422.9h12.0" stroke="#000" stroke-width="1.7" fill="none"/>
<circle cx="585.0" cy="419.7" r="4.3999999999999995"/><path d="M585.0 418.2V421.2M579.0 418.2h12.0M579.0 421.2h12.0" stroke="#000" stroke-width="1.7" fill="none"/>
<circle cx="588.0" cy="421.7" r="4.3999999999999995"/><path d="M588.0 420.2V423.2M582.0 420.2h12.0M582.0 423.2h12.0" stroke="#000" stroke-width="1.7" fill="none"/>
<circle cx="591.0" cy="419.0" r="4.3999999999999995"/><path d="M591.0 417.5V420.5M585.0 417.5h12.0M585.0 420.5h12.0" stroke="#000" stroke-width="1.7" fill="none"/>
<circle cx="594.0" cy="416.6" r="4.3999999999999995"/><path d="M594.0 415.1V418.1M588.0 415.1h12.0M588.0 418.1h12.0" stroke="#000" stroke-width="1.7" fill="none"/>
<circle cx="597.0" cy="416.7" r="4.3999999999999995"/><path d="M597.0 415.2V418.2M591.0 415.2h12.0M591.0 418.2h12.0" stroke="#000" stroke-width="1.7" fill="none"/>
<circle cx="600.0" cy="413.8" r="4.3999999999999995"/><path d="M600.0 412.3V415.3M594.0 412.3h12.0M594.0 415.3h12.0" stroke="#000" stroke-width="1.7" fill="none"/>
<circle cx="603.0" cy="414.4" r="4.3999999999999995"/><path d="M603.0 412.9V415.9M597.0 412.9h12.0M597.0 415.9h12.0" stroke="#000" stroke-width="1.7" fill="none"/>
<circle cx="606.0" cy="414.9" r="4.3999999999999995"/><path d="M606.0 413.4V416.4M600.0 413.4h12.0M600.0 416.4h12.0" stroke="#000" stroke-width="1.7" fill="none"/>
<circle cx="609.0" cy="413.5" r="4.3999999999999995"/><path d="M609.0 412.0V415.0M603.0 412.0h12.0M603.0 415.0h12.0" stroke="#000" stroke-width="1.7" fill="none"/>
<circle cx="612.0" cy="411.9" r="4.3999999999999995"/><path d="M612.0 410.4V413.4M606.0 410.4h12.0M606.0 413.4h12.0" stroke="#000" stroke-width="1.7" fill="none"/>
<circle cx="615.0" cy="409.4" r="4.3999999999999995"/><path d="M615.0 407.9V410.9M609.0 407.9h12.0M609.0 410.9h12.0" stroke="#000" stroke-width="1.7" fill="none"/>
<circle cx="618.0" cy="408.7" r="4.3999999999999995"/><path d="M618.0 407.2V410.2M612.0 407.2h12.0M612.0 410.2h12.0" stroke="#000" stroke-width="1.7" fill="none"/>
<circle cx="621.0" cy="407.0" r="4.3999999999999995"/><path d="M621.0 405.5V408.5M615.0 405.5h12.0M615.0 408.5h12.0" stroke="#000" stroke-width="1.7" fill="none"/>
<circle cx="601.9" cy="415.3" r="4.3"/><path d="M601.9 403.4V436.5M595.9 403.4h12.0M595.9 436.5h12.0" stroke="#000" stroke-width="1.7" fill="none"/>
<circle cx="627.5" cy="396.8" r="4.3"/><path d="M627.5 388.8V404.8M621.5 388.8h12.0M621.5 404.8h12.0" stroke="#000" stroke-width="1.7" fill="none"/>
<circle cx="640.9" cy="393.6" r="4.3"/><path d="M640.9 391.4V395.8M634.9 391.4h12.0M634.9 395.8h12.0" stroke="#000" stroke-width="1.7" fill="none"/>
<circle cx="648.9" cy="391.5" r="4.3"/><path d="M648.9 384.8V398.2M642.9 384.8h12.0M642.9 398.2h12.0" stroke="#000" stroke-width="1.7" fill="none"/>
<circle cx="659.6" cy="381.6" r="4.3"/><path d="M659.6 376.0V387.5M653.6 376.0h12.0M653.6 387.5h12.0" stroke="#000" stroke-width="1.7" fill="none"/>
<circle cx="670.8" cy="375.5" r="4.3"/><path d="M670.8 369.6V381.3M664.8 369.6h12.0M664.8 381.3h12.0" stroke="#000" stroke-width="1.7" fill="none"/>
<circle cx="686.8" cy="358.1" r="4.3"/><path d="M686.8 353.9V362.3M680.8 353.9h12.0M680.8 362.3h12.0" stroke="#000" stroke-width="1.7" fill="none"/>
<circle cx="692.2" cy="352.8" r="4.3"/><path d="M692.2 349.0V356.6M686.2 349.0h12.0M686.2 356.6h12.0" stroke="#000" stroke-width="1.7" fill="none"/>
<circle cx="699.7" cy="346.9" r="4.3"/><path d="M699.7 343.5V350.3M693.7 343.5h12.0M693.7 350.3h12.0" stroke="#000" stroke-width="1.7" fill="none"/>
<circle cx="708.2" cy="340.7" r="4.3"/><path d="M708.2 337.3V344.1M702.2 337.3h12.0M702.2 344.1h12.0" stroke="#000" stroke-width="1.7" fill="none"/>
<circle cx="713.5" cy="335.4" r="4.3"/><path d="M713.5 318.8V342.5M707.5 318.8h12.0M707.5 342.5h12.0" stroke="#000" stroke-width="1.7" fill="none"/>
<circle cx="714.9" cy="328.7" r="4.3"/><path d="M714.9 325.7V331.7M708.9 325.7h12.0M708.9 331.7h12.0" stroke="#000" stroke-width="1.7" fill="none"/>
<circle cx="724.2" cy="324.7" r="4.3"/><path d="M724.2 322.5V326.9M718.2 322.5h12.0M718.2 326.9h12.0" stroke="#000" stroke-width="1.7" fill="none"/>
<circle cx="730.9" cy="315.9" r="4.3"/><path d="M730.9 314.4V317.4M724.9 314.4h12.0M724.9 317.4h12.0" stroke="#000" stroke-width="1.7" fill="none"/>
<circle cx="736.2" cy="313.5" r="4.3"/><path d="M736.2 312.0V315.0M730.2 312.0h12.0M730.2 315.0h12.0" stroke="#000" stroke-width="1.7" fill="none"/>
<circle cx="740.3" cy="312.7" r="4.3"/><path d="M740.3 311.2V314.2M734.3 311.2h12.0M734.3 314.2h12.0" stroke="#000" stroke-width="1.7" fill="none"/>
</g>
<g font-family="Liberation Sans, sans-serif" fill="#000" stroke="#000" stroke-width="0.55">
<text x="73.8" y="31.5" font-size="19" text-anchor="end">10</text>
<text x="74.3" y="24.1" font-size="14.2">1</text>
<text x="73.8" y="78.7" font-size="19" text-anchor="end">10</text>
<text x="73.6" y="71.3" font-size="14.2">0</text>
<text x="68.9" y="125.9" font-size="19" text-anchor="end">10</text>
<text x="68.6" y="118.5" font-size="14.2">-1</text>
<text x="68.9" y="173.0" font-size="19" text-anchor="end">10</text>
<text x="68.6" y="165.6" font-size="14.2">-2</text>
<text x="68.9" y="220.2" font-size="19" text-anchor="end">10</text>
<text x="68.6" y="212.8" font-size="14.2">-3</text>
<text x="68.9" y="267.4" font-size="19" text-anchor="end">10</text>
<text x="68.6" y="260.0" font-size="14.2">-4</text>
<text x="68.9" y="361.6" font-size="19" text-anchor="end">10</text>
<text x="68.6" y="354.2" font-size="14.2">-1</text>
<text x="68.9" y="408.6" font-size="19" text-anchor="end">10</text>
<text x="68.6" y="401.2" font-size="14.2">-2</text>
<text x="68.9" y="455.7" font-size="19" text-anchor="end">10</text>
<text x="68.6" y="448.3" font-size="14.2">-3</text>
<text x="68.9" y="502.8" font-size="19" text-anchor="end">10</text>
<text x="68.6" y="495.4" font-size="14.2">-4</text>
<text x="93.3" y="522.4" font-size="18.5" text-anchor="middle">0.1</text>
<text x="367.2" y="522.6" font-size="18.5" text-anchor="middle">1</text>
<text x="413.7" y="522.4" font-size="18.5" text-anchor="middle">0.1</text>
<text x="692.7" y="522.8" font-size="18.5" text-anchor="middle">1</text>
<g transform="translate(33.3 180.4) rotate(-90)"><text x="0" y="0" font-size="20">σ<tspan font-size="14.5" dy="5.2">tot</tspan><tspan dy="-5.2"> [mb]</tspan></text></g>
<text transform="translate(517.9 535.9) scale(1.16 1)" font-size="19.5">η</text>
<text transform="translate(534.2 538.6) scale(1.0 1)" font-size="19.5">=</text>
<text transform="translate(550.4 535.9) scale(1.18 1)" font-size="19.5">q</text>
<text transform="translate(562.8 529.8) scale(1.0 1)" font-size="10.8" font-weight="bold">π</text>
<text transform="translate(569.6 540.2) scale(1.0 1)" font-size="14.2">(max)</text>
<text transform="translate(606.3 535.9) scale(1.0 1)" font-size="19.5">/</text>
<text transform="translate(612.0 535.9) scale(1.08 1)" font-size="19.5">m</text>
<text transform="translate(629.0 540.4) scale(1.0 1)" font-size="11.2" font-weight="bold">π</text>
</g>
<g font-family="Liberation Serif, serif" fill="#000" font-weight="bold" font-size="19.6" stroke="#000" stroke-width="0.4">
<text x="120.8" y="67.0" >pp</text>
<path d="M142.3 62.8H158.4" stroke="#000" stroke-width="1.55" fill="none"/>
<path d="M160.4 62.8C157.9 62.0 155.4 60.199999999999996 153.8 58.5L154.4 58.3C155.20000000000002 60.199999999999996 155.8 61.599999999999994 156.1 62.8C155.8 64.0 155.20000000000002 65.39999999999999 154.4 67.3L153.8 67.1C155.4 65.39999999999999 157.9 63.599999999999994 160.4 62.8Z" stroke="#000" stroke-width="0.9" stroke-linejoin="round"/>
<text x="160.1" y="67.0" >pn</text>
<text x="181.6" y="67.0" >π</text>
<path d="M193.7 54.3H203.7M198.7 49.3V59.3" stroke="#000" stroke-width="1.35" fill="none"/>
<text x="442.6" y="70.3" >pn</text>
<path d="M464.2 65.9H479.8" stroke="#000" stroke-width="1.55" fill="none"/>
<path d="M481.8 65.9C479.3 65.10000000000001 476.8 63.300000000000004 475.2 61.60000000000001L475.8 61.400000000000006C476.6 63.300000000000004 477.2 64.7 477.5 65.9C477.2 67.10000000000001 476.6 68.5 475.8 70.4L475.2 70.2C476.8 68.5 479.3 66.7 481.8 65.9Z" stroke="#000" stroke-width="0.9" stroke-linejoin="round"/>
<text x="481.3" y="70.3" >pp</text>
<text x="502.4" y="70.3" >π</text>
<path d="M513.7 58.7H520.7" stroke="#000" stroke-width="1.35" fill="none"/>
<text x="114.6" y="304.9" >pp</text>
<path d="M136.7 300.8H153.3" stroke="#000" stroke-width="1.55" fill="none"/>
<path d="M155.3 300.8C152.8 300.0 150.3 298.2 148.70000000000002 296.5L149.3 296.3C150.10000000000002 298.2 150.70000000000002 299.6 151.0 300.8C150.70000000000002 302.0 150.10000000000002 303.40000000000003 149.3 305.3L148.70000000000002 305.1C150.3 303.40000000000003 152.8 301.6 155.3 300.8Z" stroke="#000" stroke-width="0.9" stroke-linejoin="round"/>
<text x="155.0" y="304.9" >d</text>
<text x="166.2" y="304.9" >π</text>
<path d="M178.29999999999998 293.8H184.9M181.6 290.5V297.1" stroke="#000" stroke-width="1.9" fill="none"/>
<text x="442.6" y="306.4" >pp</text>
<path d="M464.6 302.0H480.7" stroke="#000" stroke-width="1.55" fill="none"/>
<path d="M482.7 302.0C480.2 301.2 477.7 299.4 476.09999999999997 297.7L476.7 297.5C477.5 299.4 478.09999999999997 300.8 478.4 302.0C478.09999999999997 303.2 477.5 304.6 476.7 306.5L476.09999999999997 306.3C477.7 304.6 480.2 302.8 482.7 302.0Z" stroke="#000" stroke-width="0.9" stroke-linejoin="round"/>
<text x="482.5" y="306.4" >pp</text>
<text x="503.6" y="306.4" >π</text>
<text transform="translate(515.6 299.5) scale(0.86 1)" font-size="14.8" font-weight="normal" font-family="Liberation Sans, sans-serif" stroke-width="0.5">0</text>
</g>
</svg>
</body></html>
